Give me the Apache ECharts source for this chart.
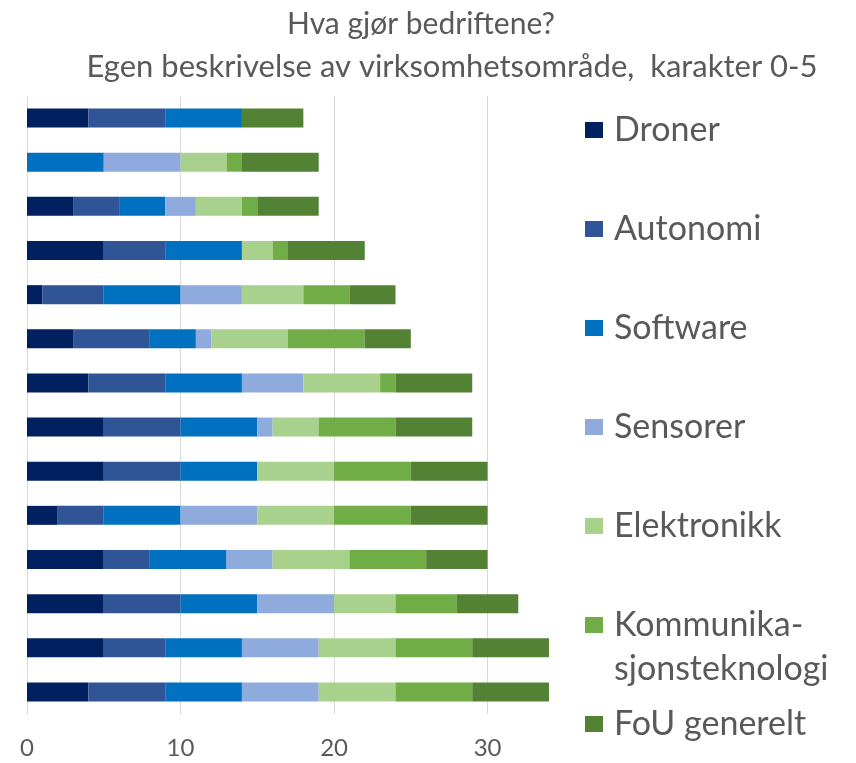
<!DOCTYPE html>
<html>
<head>
<meta charset="utf-8">
<script src="https://cdn.jsdelivr.net/npm/echarts@6/dist/echarts.min.js"></script>
<style>
  html, body { margin: 0; padding: 0; background: #fff; }
  #chart { width: 856px; height: 763px; }
</style>
</head>
<body>
<div id="chart"></div>
<script>
// rader ovenfra og ned, én bedrift per rad
const rows = ["1", "2", "3", "4", "5", "6", "7", "8", "9", "10", "11", "12", "13", "14"];

const droner      = [4, 0, 3, 5, 1, 3, 4, 5, 5, 2, 5, 5, 5, 4];
const autonomi    = [5, 0, 3, 4, 4, 5, 5, 5, 5, 3, 3, 5, 4, 5];
const software    = [5, 5, 3, 5, 5, 3, 5, 5, 5, 5, 5, 5, 5, 5];
const sensorer    = [0, 5, 2, 0, 4, 1, 4, 1, 0, 5, 3, 5, 5, 5];
const elektronikk = [0, 3, 3, 2, 4, 5, 5, 3, 5, 5, 5, 4, 5, 5];
const kommunik    = [0, 1, 1, 1, 3, 5, 1, 5, 5, 5, 5, 4, 5, 5];
const fou         = [4, 5, 4, 5, 3, 3, 5, 5, 5, 5, 4, 4, 5, 5];

const xTicks = [0, 10, 20, 30];

const seriesDefs = [
  ["Droner", droner, "#002060"],
  ["Autonomi", autonomi, "#2F5597"],
  ["Software", software, "#0070C0"],
  ["Sensorer", sensorer, "#8FAADC"],
  ["Elektronikk", elektronikk, "#A9D18E"],
  ["Kommunikasjonsteknologi", kommunik, "#70AD47"],
  ["FoU generelt", fou, "#548235"]
];

const FONT = "Lato";
const GREY = "#595959";

const chart = echarts.init(document.getElementById("chart"), null, { renderer: "canvas" });

chart.setOption({
  animation: false,
  backgroundColor: "#fff",
  textStyle: { fontFamily: FONT },
  title: [
    { text: "Hva gjør bedriftene?", left: 416, textAlign: "center", top: 4,
      textStyle: { fontFamily: FONT, fontSize: 30, fontWeight: "normal", color: GREY } },
    { text: "Egen beskrivelse av virksomhetsområde,  karakter 0-5", left: 447, textAlign: "center", top: 46,
      textStyle: { fontFamily: FONT, fontSize: 31, fontWeight: "normal", color: GREY } }
  ],
  legend: {
    orient: "vertical",
    left: 580,
    top: 108,
    itemWidth: 18,
    itemHeight: 16,
    itemGap: 65,
    icon: "rect",
    formatter: (n) => n === "Kommunikasjonsteknologi" ? "Kommunika-" : n,
    textStyle: { fontFamily: FONT, fontSize: 34, lineHeight: 34, color: GREY, padding: [0, 0, 0, 6] }
  },
  graphic: [
    { type: "text", left: 614, top: 652,
      style: { text: "sjonsteknologi", font: "34px " + FONT, fill: GREY } }
  ],
  grid: { left: 27, right: 307, top: 96, bottom: 49, containLabel: false },
  xAxis: {
    type: "value",
    min: 0, max: 34, interval: 10,
    axisLine: { show: false },
    axisTick: { show: false },
    splitLine: { show: true, showMaxLine: false, lineStyle: { color: "#d9d9d9", width: 1 } },
    axisLabel: {
      color: GREY, fontSize: 24, fontFamily: FONT, margin: 22,
      showMaxLabel: false,
      formatter: (v) => xTicks.includes(v) ? String(v) : ""
    }
  },
  yAxis: {
    type: "category",
    data: rows,
    inverse: true,
    axisLine: { show: false },
    axisTick: { show: false },
    axisLabel: { show: false },
    splitLine: { show: false }
  },
  series: seriesDefs.map(([name, data, color]) => ({
    name, type: "bar", stack: "sum", data,
    barWidth: 19,
    itemStyle: { color },
    emphasis: { disabled: true }
  }))
});
</script>
</body>
</html>
